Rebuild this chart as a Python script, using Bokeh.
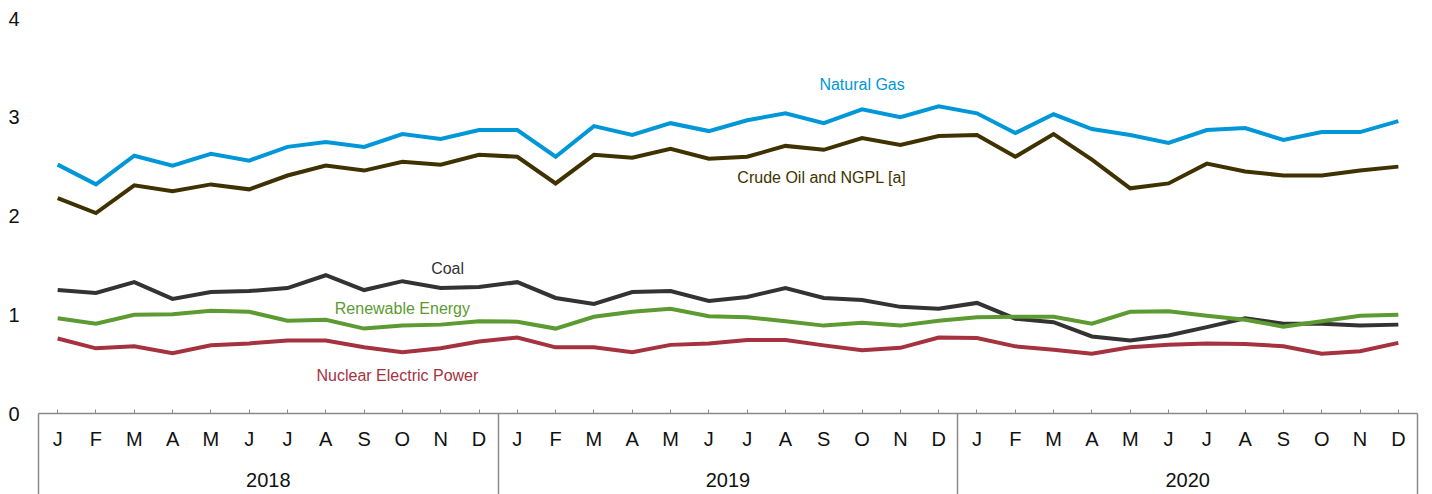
from bokeh.plotting import figure
from bokeh.models import LinearAxis, FixedTicker, Range1d
from bokeh.core.properties import value
from bokeh.embed import file_html
from bokeh.resources import INLINE

months = ["J", "F", "M", "A", "M", "J", "J", "A", "S", "O", "N", "D"]
years = ["2018", "2019", "2020"]

natural_gas = [2.52, 2.32, 2.61, 2.51, 2.63, 2.56, 2.70, 2.75, 2.70, 2.83, 2.78, 2.87,
               2.87, 2.60, 2.91, 2.82, 2.94, 2.86, 2.97, 3.04, 2.94, 3.08, 3.00, 3.11,
               3.04, 2.84, 3.03, 2.88, 2.82, 2.74, 2.87, 2.89, 2.77, 2.85, 2.85, 2.96]
crude_oil = [2.18, 2.03, 2.31, 2.25, 2.32, 2.27, 2.41, 2.51, 2.46, 2.55, 2.52, 2.62,
             2.60, 2.33, 2.62, 2.59, 2.68, 2.58, 2.60, 2.71, 2.67, 2.79, 2.72, 2.81,
             2.82, 2.60, 2.83, 2.57, 2.28, 2.33, 2.53, 2.45, 2.41, 2.41, 2.46, 2.50]
coal = [1.25, 1.22, 1.33, 1.16, 1.23, 1.24, 1.27, 1.40, 1.25, 1.34, 1.27, 1.28,
        1.33, 1.17, 1.11, 1.23, 1.24, 1.14, 1.18, 1.27, 1.17, 1.15, 1.08, 1.06,
        1.12, 0.96, 0.925, 0.78, 0.74, 0.79, 0.875, 0.965, 0.91, 0.91, 0.89, 0.90]
renewable = [0.965, 0.91, 1.00, 1.005, 1.04, 1.03, 0.94, 0.95, 0.86, 0.89, 0.90, 0.935,
             0.93, 0.86, 0.98, 1.03, 1.06, 0.985, 0.975, 0.935, 0.89, 0.92, 0.89, 0.94,
             0.975, 0.98, 0.98, 0.91, 1.03, 1.035, 0.99, 0.95, 0.88, 0.935, 0.99, 1.00]
nuclear = [0.76, 0.66, 0.68, 0.61, 0.69, 0.71, 0.74, 0.74, 0.67, 0.62, 0.66, 0.73,
           0.77, 0.67, 0.67, 0.62, 0.695, 0.71, 0.745, 0.745, 0.69, 0.64, 0.665, 0.77,
           0.765, 0.68, 0.645, 0.605, 0.67, 0.695, 0.71, 0.705, 0.68, 0.605, 0.63, 0.715]

series = [
    ("Natural Gas", natural_gas, "#0097d8", 21.0, 3.33),
    ("Crude Oil and NGPL [a]", crude_oil, "#3f3200", 19.95, 2.39),
    ("Coal", coal, "#333333", 10.18, 1.47),
    ("Renewable Energy", renewable, "#5c9a32", 9.0, 1.06),
    ("Nuclear Electric Power", nuclear, "#a5323f", 8.87, 0.385),
]

FONT = "Liberation Sans"
n = len(months) * len(years)
xs = list(range(n))

p = figure(width=1424, height=494, output_backend="svg", toolbar_location=None,
           x_range=Range1d(-0.5, n - 0.5), y_range=Range1d(0, 4),
           min_border_left=38, min_border_right=7, min_border_top=18, min_border_bottom=81,
           x_axis_location=None, y_axis_location="left")
p.outline_line_color = None
p.xgrid.visible = False
p.ygrid.visible = False
p.background_fill_color = "white"
p.border_fill_color = "white"

# y axis
ya = p.yaxis[0]
ya.ticker = FixedTicker(ticks=[0, 1, 2, 3, 4])
ya.axis_line_color = None
ya.major_tick_line_color = None
ya.minor_tick_line_color = None
ya.major_label_text_font = FONT
ya.major_label_text_font_size = "20px"
ya.major_label_text_color = "#111111"
ya.major_label_standoff = 13

# month axis
month_labels = {i: months[i % 12] for i in xs}
seps = [-0.5 + 12 * k for k in range(len(years) + 1)]
mx = LinearAxis(ticker=FixedTicker(ticks=xs, minor_ticks=seps),
                major_label_overrides=month_labels)
mx.axis_line_color = "#8a8a8a"
mx.axis_line_width = 1.5
mx.major_tick_in = 4
mx.major_tick_out = 0
mx.major_tick_line_color = "#8a8a8a"
mx.minor_tick_in = -90
mx.minor_tick_out = 0
mx.minor_tick_line_color = "#8a8a8a"
mx.minor_tick_line_width = 1.5
mx.major_label_text_font = FONT
mx.major_label_text_font_size = "20px"
mx.major_label_text_color = "#111111"
mx.major_label_standoff = 14
p.add_layout(mx, "below")

# year axis
year_pos = [5.5 + 12 * k for k in range(len(years))]
yx = LinearAxis(ticker=FixedTicker(ticks=year_pos),
                major_label_overrides={year_pos[k]: years[k] for k in range(len(years))})
yx.axis_line_color = None
yx.major_tick_line_color = None
yx.minor_tick_line_color = None
yx.major_label_text_font = FONT
yx.major_label_text_font_size = "20px"
yx.major_label_text_color = "#111111"
yx.major_label_standoff = 14
p.add_layout(yx, "below")

for name, vals, color, lx, ly in series:
    p.line(xs, vals, line_color=color, line_width=4, line_join="miter")
    p.text(x=[lx], y=[ly], text=[name], text_color=color, text_font=value(FONT),
           text_font_size="16px", text_align="center", text_baseline="middle")

open("out.html", "w").write(file_html(p, INLINE))
